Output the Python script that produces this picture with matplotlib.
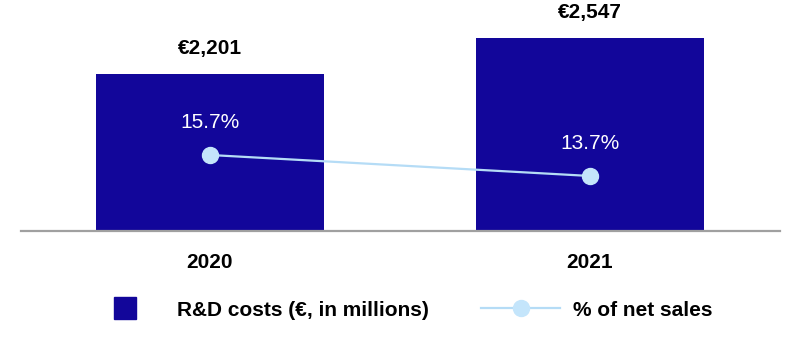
import matplotlib.pyplot as plt
from matplotlib.lines import Line2D

years = ['2020', '2021']
rd_costs = [2201, 2547]
pct_net_sales = [15.7, 13.7]

BAR_COLOR = '#12069a'
LINE_COLOR = '#b5dcf6'
MARKER_COLOR = '#c4e5fb'


def rdChart():
    plt.rcParams['font.family'] = ['Liberation Sans', 'DejaVu Sans']

    fig = plt.figure(figsize=(8, 3.4), dpi=100)
    ax = fig.add_axes([0.02625, 0.3206, 0.94875, 0.6794])
    x = list(range(len(years)))

    ax.bar(x, rd_costs, width=0.6, color=BAR_COLOR, zorder=2)
    ax.set_ylim(692, 2912)
    ax.set_xlim(-0.497, 1.5)
    for xi, v in zip(x, rd_costs):
        ax.annotate(f'€{v:,}', (xi, v), xytext=(0, 18), textcoords='offset points',
                    ha='center', va='center', fontsize=15, fontweight='bold')

    ax.set_xticks(x)
    ax.set_xticklabels(years, fontsize=15, fontweight='bold')
    ax.tick_params(axis='x', length=0, pad=16)
    ax.set_yticks([])
    for side in ['top', 'right', 'left']:
        ax.spines[side].set_visible(False)
    ax.spines['bottom'].set_color('#a0a0a0')
    ax.spines['bottom'].set_linewidth(1.6)

    ax2 = ax.twinx()
    ax2.plot(x, pct_net_sales, color=LINE_COLOR, linewidth=1.6, marker='o',
             markersize=11.5, markerfacecolor=MARKER_COLOR, markeredgecolor=MARKER_COLOR, zorder=3)
    ax2.set_ylim(8.46, 30.46)
    for xi, p in zip(x, pct_net_sales):
        ax2.annotate(f'{p}%', (xi, p), xytext=(0, 23.5), textcoords='offset points',
                     ha='center', va='center', fontsize=15, color='white')
    ax2.axis('off')

    handles = [
        Line2D([], [], linestyle='none', marker='s', markersize=16,
               markerfacecolor=BAR_COLOR, markeredgecolor=BAR_COLOR),
        Line2D([], [], color=LINE_COLOR, linewidth=1.6, marker='o', markersize=11.5,
               markerfacecolor=MARKER_COLOR, markeredgecolor=MARKER_COLOR),
    ]
    labels = ['R&D costs (€, in millions)', '% of net sales']
    fig.legend(handles, labels, loc='center', bbox_to_anchor=(0.4985, 0.088), ncol=2,
               frameon=False, handlelength=3.8, handletextpad=0.6, columnspacing=2.5,
               prop={'size': 15, 'weight': 'bold'})

    fig.savefig('out.png', dpi=100)
    plt.close(fig)


if __name__ == "__main__":

    rdChart()
